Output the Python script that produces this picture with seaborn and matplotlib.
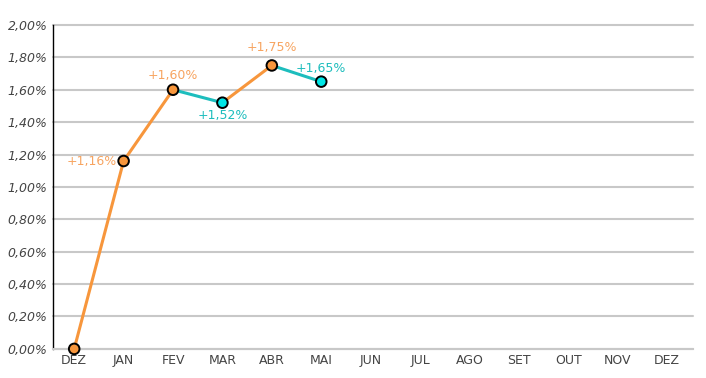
import matplotlib
matplotlib.use('Agg')
import matplotlib.pyplot as plt
import seaborn as sns
import pandas as pd

sns.set_style('white')
plt.rcParams['font.family'] = ['DejaVu Sans']

# Data
months = ['DEZ', 'JAN', 'FEV', 'MAR', 'ABR', 'MAI', 'JUN', 'JUL', 'AGO', 'SET', 'OUT', 'NOV', 'DEZ']
values = [0.00, 1.16, 1.60, 1.52, 1.75, 1.65]
labels = ['', '+1,16%', '+1,60%', '+1,52%', '+1,75%', '+1,65%']

up_line = '#F7963C'
down_line = '#1DBDBD'
up_fill = '#F7963C'
down_fill = '#00E6E6'
up_text = '#F7A460'
down_text = '#1DBDBD'

df = pd.DataFrame({'x': range(len(values)), 'y': values})

fig, ax = plt.subplots(figsize=(7.06, 3.78), dpi=100)
fig.subplots_adjust(left=0.075, right=0.982, top=0.934, bottom=0.077)

# segments coloured by direction
for i in range(1, len(values)):
    seg = df.iloc[i - 1:i + 1]
    c = up_line if values[i] >= values[i - 1] else down_line
    sns.lineplot(data=seg, x='x', y='y', ax=ax, color=c, linewidth=2.2, zorder=3)

fills = [up_fill] + [up_fill if values[i] >= values[i - 1] else down_fill for i in range(1, len(values))]
ax.scatter(df['x'], df['y'], s=58, c=fills, edgecolors='black', linewidths=1.4, zorder=4)

# labels
offsets = {1: (-0.64, 0.0), 2: (0.0, 0.09), 3: (0.0, -0.08),
           4: (0.0, 0.11), 5: (0.0, 0.08)}
for i, (dx, dy) in offsets.items():
    col = up_text if values[i] >= values[i - 1] else down_text
    ax.text(i + dx, values[i] + dy, labels[i], color=col, fontsize=9, ha='center', va='center', zorder=5)

ax.set_xlim(-0.43, 12.53)
ax.set_ylim(0, 2.0)
ax.set_xticks(range(len(months)))
ax.set_xticklabels(months, color='#444444', fontsize=9)
yt = [i * 0.2 for i in range(11)]
ax.set_yticks(yt)
ax.set_yticklabels([f'{v:.2f}%'.replace('.', ',') for v in yt], color='#444444', fontsize=9, style='italic')
ax.yaxis.grid(True, color='#C8C8C8', linewidth=1.5, zorder=0, clip_on=False)
ax.set_axisbelow(True)
ax.set_xlabel('')
ax.set_ylabel('')
for s in ['top', 'right']:
    ax.spines[s].set_visible(False)
ax.spines['bottom'].set_color('#C8C8C8')
ax.spines['bottom'].set_linewidth(1.5)
ax.spines['left'].set_color('black')
ax.spines['left'].set_linewidth(1.0)
ax.tick_params(axis='both', length=0, pad=4)
for coll in ax.collections:
    coll.set_clip_on(False)

fig.savefig('out.png', dpi=100)
